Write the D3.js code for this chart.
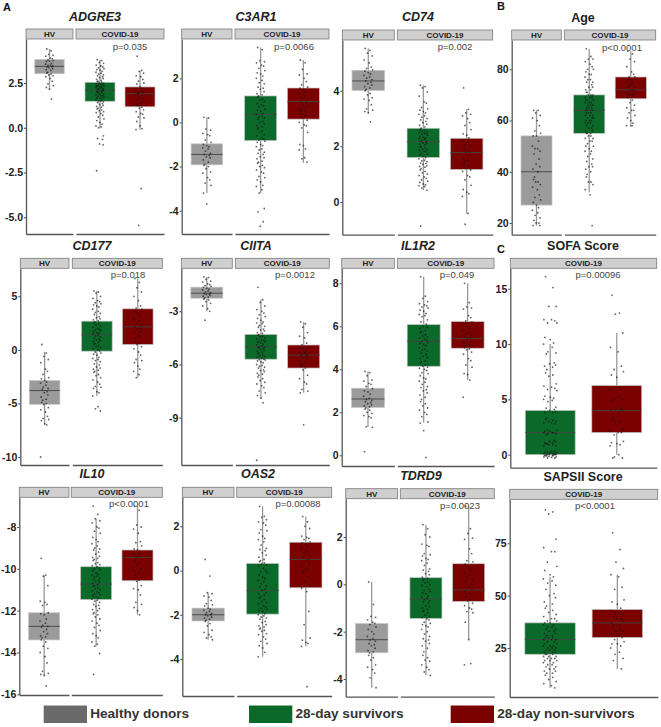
<!DOCTYPE html>
<html>
<head>
<meta charset="utf-8">
<script src="https://cdnjs.cloudflare.com/ajax/libs/d3/7.8.5/d3.min.js"></script>
<style>
  body { margin: 0; background: #fff; }
  text { font-family: "Liberation Sans", Arial, sans-serif; }
</style>
</head>
<body>
<div id="chart"></div>
<script>
// groups and legend
var groupNames = ["Healthy donors", "28-day survivors", "28-day non-survivors"];
var groupColors = ["#9b9b9b", "#0b6a2a", "#7b0000"];
var legendColors = ["#6a6a6a", "#0b6a2a", "#7b0000"];

// sideways spread of the dots, as a share of one category step
var jitter = [-.07, .04, -.02, .09, -.095, .02, .07, -.04, .1, -.08, 0, .05, -.1, .03, -.035, .085, -.06, .06, -.01, .08, -.085, .035, -.05];

// ADGRE3
var adgre3Stats = [[2.15, 3.02, 3.43, 3.81, 4.4], [0, 1.48, 2.09, 2.54, 3.8], [-.1, 1.17, 1.9, 2.28, 3.17]];
var adgre3Hv = [4.4, 4.3, 4.1, 4.05, 4, 3.9, 3.85, 3.8, 3.75, 3.7, 3.72, 3.6, 3.55, 3.5, 3.48, 3.45, 3.4, 3.42, 3.35, 3.3, 3.25, 3.2, 3.1, 3.05, 3, 2.95, 2.9, 2.85, 2.75, 2.6, 2.45, 2.35, 2.25, 2.15, 1.6];
var adgre3Surv = [3.8, 3.75, 3.65, 3.6, 3.5, 3.45, 3.4, 3.35, 3.3, 3.25, 3.22, 3.15, 3.1, 3.05, 3, 2.95, 2.9, 2.85, 2.8, 2.75, 2.7, 2.65, 2.6, 2.58, 2.55, 2.5, 2.48, 2.45, 2.42, 2.4, 2.38, 2.35, 2.32, 2.3, 2.28, 2.25, 2.22, 2.2, 2.18, 2.15, 2.12, 2.1, 2.08, 2.05, 2.02, 2, 1.98, 1.95, 1.9, 1.88, 1.85, 1.8, 1.78, 1.75, 1.7, 1.68, 1.65, 1.6, 1.55, 1.5, 1.48, 1.45, 1.4, 1.35, 1.3, 1.25, 1.2, 1.15, 1.1, 1.05, 1, .95, .9, .85, .8, .7, .6, .5, .4, .3, .2, .1, .05, 0, -.45, -.6, -.65, -.9, -.95, -2.4];
var adgre3Non = [4, 3.2, 3.15, 3.05, 2.9, 2.85, 2.7, 2.6, 2.5, 2.45, 2.3, 2.2, 2.1, 2, 1.95, 1.97, 1.9, 1.8, 1.7, 1.6, 1.55, 1.4, 1.3, 1.25, 1.15, 1.1, 1, .9, .8, .75, .6, .55, .35, .1, -.05, -.1, -3.4, -5.45];

// C3AR1
var c3ar1Stats = [[-3.2, -1.92, -1.45, -.97, .23], [-3.2, -.82, .36, 1.2, 3.4], [-1.83, .15, .94, 1.56, 2.83]];
var c3ar1Hv = [.23, .2, -.3, -.35, -.5, -.55, -.6, -.8, -.9, -1, -1.05, -1.1, -1.15, -1.2, -1.3, -1.4, -1.45, -1.5, -1.55, -1.6, -1.7, -1.8, -1.9, -1.95, -2, -2.1, -2.25, -2.3, -2.5, -2.6, -2.75, -2.85, -3.2, -3.7];
var c3ar1Surv = [3.4, 3.3, 2.8, 2.75, 2.7, 2.6, 2.55, 2.45, 2.35, 2.25, 2.2, 2.1, 2, 1.9, 1.8, 1.75, 1.6, 1.55, 1.5, 1.4, 1.3, 1.25, 1.2, 1.15, 1.05, 1, .95, .85, .8, .75, .7, .6, .55, .5, .4, .35, .3, .25, .2, .15, .05, 0, -.05, -.15, -.2, -.25, -.3, -.4, -.45, -.55, -.6, -.7, -.75, -.8, -.85, -.9, -1, -1.05, -1.1, -1.2, -1.25, -1.35, -1.4, -1.45, -1.55, -1.6, -1.65, -1.75, -1.8, -1.85, -1.95, -2, -2.05, -2.15, -2.25, -2.3, -2.45, -2.5, -2.6, -2.7, -2.85, -2.9, -3.05, -3.2, -3.9, -4.05, -4.5, -4.7];
var c3ar1Non = [2.83, 2.7, 2.4, 2.2, 2.15, 2, 1.85, 1.7, 1.6, 1.55, 1.5, 1.4, 1.3, 1.2, 1.1, 1, .95, .9, .8, .7, .6, .55, .5, .4, .3, .2, .1, 0, -.1, -.15, -.25, -.45, -1, -1.05, -1.2, -1.25, -1.6, -1.65, -1.8];

// CD74
var cd74Stats = [[3.2, 4.01, 4.35, 4.73, 5.52], [.43, 1.6, 2.17, 2.65, 4.2], [-.41, 1.17, 1.78, 2.29, 3.33]];
var cd74Hv = [5.52, 5.45, 5.35, 5.25, 5.1, 5, 4.85, 4.8, 4.75, 4.7, 4.65, 4.6, 4.55, 4.5, 4.45, 4.4, 4.35, 4.3, 4.25, 4.2, 4.15, 4.1, 4.05, 4, 3.9, 3.85, 3.75, 3.7, 3.65, 3.5, 3.35, 3.3, 3.25, 3.2, 2.88];
var cd74Surv = [4.2, 4.15, 4.1, 3.95, 3.8, 3.6, 3.55, 3.4, 3.35, 3.3, 3.25, 3.2, 3.15, 3.1, 3.05, 3, 2.95, 2.9, 2.85, 2.8, 2.75, 2.7, 2.65, 2.6, 2.58, 2.55, 2.52, 2.5, 2.48, 2.45, 2.42, 2.4, 2.35, 2.32, 2.3, 2.28, 2.25, 2.22, 2.2, 2.18, 2.15, 2.12, 2.1, 2.08, 2.05, 2, 1.98, 1.95, 1.9, 1.88, 1.85, 1.82, 1.8, 1.75, 1.72, 1.7, 1.65, 1.6, 1.55, 1.5, 1.48, 1.45, 1.4, 1.38, 1.35, 1.3, 1.28, 1.25, 1.2, 1.15, 1.1, 1.05, 1, .95, .9, .85, .8, .75, .7, .65, .62, .58, .55, .5, .43, -.87];
var cd74Non = [4.1, 3.33, 3.2, 3.15, 3.1, 3, 2.85, 2.75, 2.6, 2.45, 2.4, 2.3, 2.2, 2.15, 2.05, 2, 1.9, 1.8, 1.78, 1.7, 1.6, 1.5, 1.45, 1.35, 1.3, 1.2, 1.15, 1.1, .95, .9, .8, .6, .45, .35, .3, .2, -.41, -.8];

// Age
var ageStats = [[19, 27, 40, 54, 64], [32, 55, 64, 70, 88], [57.5, 68.5, 72, 77, 87]];
var ageHv = [64, 64, 63, 62, 61, 60, 58, 56, 55, 54, 54, 52, 50, 49, 49, 48, 47, 45, 43, 42, 41, 40, 38, 37, 36, 36, 35, 34, 33, 31, 30, 29, 28, 27, 26, 25, 24, 23, 22, 21, 20, 20, 19, 19];
var ageSurv = [88, 85, 84, 84, 83, 82, 81, 80, 80, 79, 78, 78, 77, 76, 76, 75, 75, 74, 73, 73, 72, 72, 71, 71, 70, 70, 70, 69, 69, 69, 68, 68, 68, 67, 67, 67, 66, 66, 66, 65, 65, 65, 64, 64, 64, 64, 63, 63, 63, 62, 62, 62, 61, 61, 61, 60, 60, 60, 59, 59, 59, 58, 58, 57, 57, 56, 56, 55, 55, 55, 54, 54, 53, 53, 52, 52, 51, 50, 50, 49, 48, 48, 47, 46, 45, 44, 43, 42, 42, 41, 40, 39, 38, 36, 36, 35, 33, 31, 19];
var ageNon = [87, 86, 84, 83, 81, 79, 78, 77, 77, 76, 76, 75, 75, 74, 74, 73, 73, 72, 72, 71, 71, 70, 70, 69, 68, 67, 66, 65, 64, 64, 63, 62, 61, 60, 59, 58, 58];

// CD177
var cd177Stats = [[-7, -5.08, -3.8, -2.87, -.2], [-4.3, -.12, 1.4, 2.68, 5.5], [-2.6, .5, 2.15, 3.83, 6.67]];
var cd177Hv = [.5, -.3, -.6, -.9, -1.2, -1.8, -2, -2.3, -2.6, -2.7, -2.85, -3, -3.1, -3.3, -3.5, -3.6, -3.7, -3.9, -4, -4.2, -4.4, -4.6, -4.7, -4.9, -5, -5.1, -5.4, -5.6, -5.8, -6.2, -6.4, -6.5, -6.6, -6.9, -7, -10];
var cd177Surv = [5.5, 5.4, 5.3, 5, 4.8, 4.6, 4.5, 4.4, 4.3, 4.2, 4.1, 4, 3.8, 3.6, 3.5, 3.4, 3.3, 3.1, 3, 2.9, 2.8, 2.7, 2.6, 2.5, 2.4, 2.3, 2.2, 2.1, 2, 1.9, 1.85, 1.8, 1.7, 1.6, 1.55, 1.5, 1.4, 1.3, 1.2, 1.1, 1, .9, .85, .8, .7, .6, .5, .4, .3, .2, .1, 0, -.1, -.2, -.3, -.4, -.5, -.7, -.8, -.9, -1, -1.1, -1.3, -1.4, -1.6, -1.7, -1.8, -1.9, -2, -2.1, -2.3, -2.4, -2.6, -2.8, -3, -3.2, -3.4, -3.5, -3.6, -3.9, -4, -4.3, -5.3, -5.5, -5.7];
var cd177Non = [6.67, 6.3, 5.8, 5.4, 5, 4.6, 4.1, 3.9, 3.8, 3.6, 3.4, 3.2, 2.9, 2.7, 2.5, 2.3, 2.1, 2, 1.9, 1.7, 1.6, 1.3, 1.1, .8, .6, .5, .3, .1, -.2, -.5, -.9, -1, -1.2, -1.5, -1.8, -2, -2.3, -2.6];

// CIITA
var ciitaStats = [[-3, -2.26, -1.98, -1.64, -1.06], [-7.9, -5.7, -5, -4.3, -2.35], [-7.6, -6.2, -5.47, -4.9, -3.6]];
var ciitaHv = [-1.06, -1.1, -1.2, -1.3, -1.35, -1.45, -1.5, -1.55, -1.6, -1.65, -1.7, -1.75, -1.8, -1.85, -1.9, -1.95, -2, -2.02, -2.05, -2.1, -2.15, -2.2, -2.25, -2.3, -2.35, -2.45, -2.55, -2.7, -2.85, -3, -3.5];
var ciitaSurv = [-1.65, -2.35, -2.5, -2.7, -2.9, -3, -3.1, -3.2, -3.3, -3.4, -3.5, -3.6, -3.65, -3.7, -3.8, -3.85, -3.9, -4, -4.05, -4.1, -4.2, -4.25, -4.3, -4.35, -4.4, -4.45, -4.5, -4.55, -4.6, -4.65, -4.7, -4.72, -4.75, -4.8, -4.85, -4.9, -4.95, -5, -5.02, -5.05, -5.1, -5.15, -5.2, -5.25, -5.3, -5.35, -5.4, -5.45, -5.5, -5.55, -5.6, -5.65, -5.7, -5.72, -5.75, -5.8, -5.85, -5.9, -6, -6.05, -6.1, -6.15, -6.2, -6.3, -6.35, -6.4, -6.5, -6.55, -6.6, -6.7, -6.8, -6.9, -7, -7.1, -7.2, -7.3, -7.5, -7.6, -7.75, -7.9, -8.15, -11.4];
var ciitaNon = [-3.6, -3.7, -3.9, -4.2, -4.4, -4.5, -4.8, -4.9, -5, -5.05, -5.1, -5.2, -5.3, -5.35, -5.4, -5.45, -5.5, -5.55, -5.6, -5.7, -5.8, -5.9, -6, -6.1, -6.2, -6.3, -6.6, -6.8, -7, -7.1, -7.4, -7.5, -7.6, -9.4];

// IL1R2
var il1r2Stats = [[1.33, 2.23, 2.62, 3.12, 3.9], [1.52, 4.14, 5.3, 6.08, 8.3], [3.5, 4.98, 5.44, 6.22, 8]];
var il1r2Hv = [3.9, 3.85, 3.7, 3.5, 3.45, 3.35, 3.3, 3.2, 3.1, 3, 2.95, 2.85, 2.75, 2.65, 2.6, 2.55, 2.5, 2.45, 2.4, 2.35, 2.3, 2.25, 2.2, 2.15, 2.1, 2, 1.95, 1.85, 1.8, 1.75, 1.33, 1.3, .17];
var il1r2Surv = [8.3, 7.4, 7.3, 7.15, 7.05, 7, 6.95, 6.9, 6.85, 6.75, 6.7, 6.6, 6.55, 6.5, 6.45, 6.3, 6.2, 6.1, 6, 5.95, 5.9, 5.8, 5.75, 5.7, 5.6, 5.55, 5.5, 5.45, 5.4, 5.35, 5.3, 5.25, 5.2, 5.15, 5.1, 5, 4.95, 4.9, 4.85, 4.75, 4.7, 4.6, 4.55, 4.5, 4.4, 4.35, 4.3, 4.2, 4.15, 4.1, 4.05, 4, 3.95, 3.85, 3.8, 3.7, 3.6, 3.55, 3.45, 3.4, 3.3, 3.2, 3.15, 3.05, 3, 2.9, 2.8, 2.7, 2.6, 2.5, 2.4, 2.3, 2.2, 2.1, 2, 1.9, 1.8, 1.55, 1.5, 1.15, -.1];
var il1r2Non = [8, 7.1, 6.9, 6.85, 6.8, 6.5, 6.4, 6.25, 6.2, 6.1, 6, 5.9, 5.8, 5.7, 5.65, 5.6, 5.5, 5.45, 5.4, 5.3, 5.25, 5.15, 5.1, 5, 4.95, 4.9, 4.8, 4.7, 4.5, 4.4, 4.2, 4.1, 3.8, 3.75, 3.5, 2.7];

// SOFA Score (the counts are nudged up and down a little in the picture)
var sofaStats = [null, [0, 0, 2, 4, 10], [0, 2, 4, 6.25, 11]];
var sofaSurv = [16.1, 15.1, 13.4, 13.4, 12.2, 12.2, 12.1, 11.9, 11.9, 10.6, 10.4, 10.1, 10, 9.7, 9.3, 9.2, 9.1, 8.3, 8.2, 8.1, 8, 7.9, 7.7, 7.4, 7.2, 7.1, 6.4, 6.2, 6.1, 6, 5.9, 5.8, 5.3, 5.2, 5.1, 5, 4.9, 4.8, 4.3, 4.2, 4.1, 4, 3.9, 3.8, 3.8, 3.3, 3.2, 3.1, 3, 3, 2.9, 2.9, 2.8, 2.2, 2.2, 2.1, 2.1, 2, 2, 2, 1.9, 1.9, 1.8, 1.3, 1.2, 1.2, 1.1, 1.1, 1, 1, .9, .9, .8, .8, .3, .3, .25, .2, .2, .15, .1, .1, .1, .05, .05, 0, 0, 0, 0, -.05, -.05, -.1, -.1, -.1, -.15, -.2, -.2, -.25, -.3, -.3];
var sofaNon = [14.4, 12.8, 12.7, 11, 9.7, 9.3, 8, 7.7, 7.5, 7.2, 7, 6.1, 5.9, 5.2, 5, 5, 4.9, 4.2, 4.1, 4, 4, 3.9, 3.3, 3.1, 3, 2.9, 2.3, 2.1, 2, 2, 1.8, 1.2, 1.1, 1, .9, .8, 0, -.2, -.3, -.3];

// IL10
var il10Stats = [[-15.1, -13.4, -12.75, -12.1, -10.3], [-13.7, -11.47, -10.73, -9.9, -7.6], [-12.2, -10.57, -9.45, -9.1, -7]];
var il10Hv = [-9.5, -10.3, -10.35, -10.8, -11.55, -11.6, -11.7, -11.75, -12.1, -12.15, -12.2, -12.4, -12.5, -12.6, -12.7, -12.75, -12.8, -12.9, -13, -13.1, -13.2, -13.25, -13.3, -13.4, -13.5, -13.7, -13.8, -14, -14.2, -14.5, -14.9, -15, -15.05, -15.1, -15.6];
var il10Surv = [-7, -7.4, -7.6, -7.7, -7.8, -8, -8.05, -8.2, -8.3, -8.5, -8.6, -8.7, -8.8, -8.9, -9, -9.05, -9.1, -9.2, -9.3, -9.4, -9.45, -9.5, -9.55, -9.6, -9.7, -9.75, -9.8, -9.85, -9.9, -9.95, -10, -10.05, -10.1, -10.2, -10.25, -10.3, -10.35, -10.4, -10.45, -10.5, -10.55, -10.6, -10.65, -10.7, -10.75, -10.8, -10.85, -10.9, -10.95, -11, -11.05, -11.1, -11.15, -11.2, -11.25, -11.3, -11.35, -11.4, -11.45, -11.5, -11.55, -11.6, -11.7, -11.75, -11.8, -11.9, -11.95, -12, -12.1, -12.15, -12.2, -12.3, -12.4, -12.5, -12.6, -12.7, -12.8, -12.95, -13.1, -13.2, -13.3, -13.5, -13.6, -13.7, -14.05, -15.05];
var il10Non = [-7, -7.2, -7.9, -8, -8.1, -8.3, -8.7, -8.75, -8.9, -9.05, -9.1, -9.25, -9.3, -9.4, -9.45, -9.5, -9.6, -9.7, -9.8, -10, -10.1, -10.2, -10.3, -10.45, -10.55, -10.6, -10.8, -10.95, -11, -11.25, -11.6, -11.7, -11.85, -12, -12.2];

// OAS2
var oas2Stats = [[-3.13, -2.28, -2, -1.7, -1], [-3.9, -1.97, -.9, .32, 2.9], [-3.43, -.78, .5, 1.28, 2.44]];
var oas2Hv = [.5, -.25, -1, -1.05, -1.15, -1.2, -1.35, -1.5, -1.55, -1.6, -1.7, -1.75, -1.8, -1.85, -1.9, -1.95, -2, -2, -2.05, -2.1, -2.15, -2.2, -2.25, -2.3, -2.4, -2.5, -2.7, -2.8, -2.9, -3, -3.05, -3.13];
var oas2Surv = [2.9, 2.45, 2.4, 2.3, 2.2, 2.15, 2.05, 1.85, 1.8, 1.7, 1.55, 1.45, 1.4, 1.3, 1.15, 1, .95, .9, .8, .7, .6, .5, .45, .4, .35, .3, .25, .2, .1, 0, -.05, -.1, -.2, -.3, -.35, -.45, -.5, -.6, -.7, -.75, -.85, -.9, -1, -1.05, -1.1, -1.2, -1.25, -1.3, -1.4, -1.45, -1.5, -1.6, -1.65, -1.7, -1.75, -1.8, -1.85, -1.95, -2, -2.05, -2.1, -2.15, -2.2, -2.3, -2.35, -2.45, -2.5, -2.55, -2.6, -2.65, -2.7, -2.75, -2.85, -2.9, -3, -3.1, -3.2, -3.3, -3.4, -3.5, -3.7, -3.9];
var oas2Non = [2.44, 2.2, 2, 1.9, 1.55, 1.5, 1.45, 1.4, 1.3, 1.25, 1.2, 1.1, 1, .9, .8, .7, .6, .5, .45, .3, .2, .1, 0, -.1, -.3, -.5, -.7, -.8, -.95, -1.85, -2.45, -3.05, -3.15, -3.25, -3.3, -3.43, -5.25];

// TDRD9
var tdrd9Stats = [[-4.37, -2.89, -2.34, -1.66, .1], [-3.85, -1.44, -.62, .28, 2.52], [-2.34, -.72, -.24, .87, 3.3]];
var tdrd9Hv = [.1, -.85, -1.35, -1.4, -1.5, -1.6, -1.65, -1.7, -1.8, -1.9, -2, -2.1, -2.2, -2.3, -2.35, -2.4, -2.5, -2.55, -2.6, -2.7, -2.8, -2.85, -2.9, -3, -3.1, -3.2, -3.4, -3.5, -3.6, -3.75, -3.95, -4.37];
var tdrd9Surv = [2.52, 2.35, 2.1, 2, 1.7, 1.65, 1.6, 1.3, 1.25, 1.2, 1.1, 1.05, 1, .9, .8, .65, .6, .55, .45, .4, .3, .25, .2, .15, .1, .05, 0, -.05, -.1, -.2, -.25, -.3, -.35, -.4, -.5, -.55, -.6, -.65, -.7, -.75, -.8, -.9, -.95, -1, -1.05, -1.1, -1.15, -1.2, -1.3, -1.35, -1.4, -1.45, -1.5, -1.6, -1.65, -1.7, -1.75, -1.8, -1.9, -2, -2.1, -2.2, -2.3, -2.35, -2.4, -2.5, -2.6, -2.7, -2.85, -3, -3.1, -3.2, -3.25, -3.4, -3.5, -3.6, -3.7, -3.85];
var tdrd9Non = [3.3, 2.35, 2.15, 1.95, 1.9, 1.5, 1.3, 1, .95, .85, .7, .6, .5, .4, .3, .2, .1, 0, -.1, -.2, -.3, -.4, -.5, -.55, -.65, -.7, -.8, -.9, -1, -1.05, -1.15, -1.2, -1.6, -2.34, -3.35, -3.4];

// SAPSII Score
var sapsStats = [null, [6, 22, 29, 37, 59], [15, 30, 37, 43.4, 60]];
var sapsSurv = [91, 90, 89, 77, 73, 71, 71, 66, 64, 62, 60, 59, 58, 57, 56, 55, 53, 51, 50, 49, 47, 46, 45, 44, 43, 42, 41, 40, 39, 39, 38, 38, 37, 37, 36, 36, 35, 35, 34, 34, 33, 33, 32, 32, 31, 31, 30, 30, 30, 29, 29, 29, 28, 28, 27, 27, 26, 26, 26, 25, 25, 25, 24, 24, 24, 23, 23, 23, 22, 22, 22, 21, 21, 21, 20, 20, 20, 19, 19, 19, 18, 18, 17, 17, 16, 16, 15, 15, 14, 14, 13, 13, 12, 11, 10, 9, 8, 7, 6];
var sapsNon = [80, 72, 66, 63, 60, 59, 54, 53, 48, 47, 46, 44, 43, 42, 42, 41, 40, 39, 39, 38, 37, 36, 36, 35, 34, 33, 33, 32, 31, 30, 29, 28, 27, 27, 26, 25, 23, 22, 20, 19, 15];

var panelTitles = ["ADGRE3", "C3AR1", "CD74", "Age", "CD177", "CIITA", "IL1R2", "SOFA Score", "IL10", "OAS2", "TDRD9", "SAPSII Score"];
var panelP = ["p=0.035", "p=0.0066", "p=0.002", "p<0.0001", "p=0.018", "p=0.0012", "p=0.049", "p=0.00096", "p<0.0001", "p=0.00088", "p=0.0023", "p<0.0001"];
var panelStats = [adgre3Stats, c3ar1Stats, cd74Stats, ageStats, cd177Stats, ciitaStats, il1r2Stats, sofaStats, il10Stats, oas2Stats, tdrd9Stats, sapsStats];
var panelPoints = [
  [adgre3Hv, adgre3Surv, adgre3Non], [c3ar1Hv, c3ar1Surv, c3ar1Non], [cd74Hv, cd74Surv, cd74Non], [ageHv, ageSurv, ageNon],
  [cd177Hv, cd177Surv, cd177Non], [ciitaHv, ciitaSurv, ciitaNon], [il1r2Hv, il1r2Surv, il1r2Non], [null, sofaSurv, sofaNon],
  [il10Hv, il10Surv, il10Non], [oas2Hv, oas2Surv, oas2Non], [tdrd9Hv, tdrd9Surv, tdrd9Non], [null, sapsSurv, sapsNon]
];
var panelTicks = [
  [2.5, 0, -2.5, -5], [2, 0, -2, -4], [4, 2, 0], [80, 60, 40, 20],
  [5, 0, -5, -10], [-3, -6, -9], [8, 6, 4, 2, 0], [15, 10, 5, 0],
  [-8, -10, -12, -14, -16], [2, 0, -2, -4], [2, 0, -2, -4], [75, 50, 25]
];
var tickFormats = [".1f", "d", "d", "d", "d", "d", "d", "d", "d", "d", "d", "d"];

// page layout: hv/covid are the two facets in px, strip top, plot bottom, then
// two tick values with their px rows to fix the y scale, title and p-value spots
var layout = [
  {hv: [26, 73], covid: [76, 164], strip: 29, bottom: 234, ref: [2.5, 83, -5, 217.3], title: [95, 16], p: [130, 46]},
  {hv: [181.7, 232], covid: [235, 329], strip: 29, bottom: 234, ref: [2, 78.3, -4, 210.7], title: [256, 16], p: [294, 46]},
  {hv: [342.3, 394.3], covid: [397.3, 492.7], strip: 30, bottom: 234.7, ref: [4, 90.7, 0, 202], title: [418, 16], p: [455, 46]},
  {hv: [511.7, 561.3], covid: [564.3, 655.7], strip: 30, bottom: 234.7, ref: [80, 69.3, 20, 223], title: [583, 17], p: [622, 47]},
  {hv: [20.3, 69], covid: [72.3, 162.3], strip: 258.3, bottom: 465, ref: [5, 296.3, -10, 457], title: [92, 245], p: [128, 274]},
  {hv: [181.3, 232.3], covid: [235.3, 329.3], strip: 258.3, bottom: 465, ref: [-3, 311.3, -9, 417.7], title: [256, 245], p: [295, 274]},
  {hv: [341.7, 394.3], covid: [397.3, 494], strip: 258.3, bottom: 466, ref: [8, 283.3, 0, 455.3], title: [418, 245], p: [457, 274]},
  {hv: null, covid: [510.3, 656.7], strip: 258.3, bottom: 467.7, ref: [15, 288.7, 0, 454.7], title: [583, 245], p: [598, 274]},
  {hv: [19.3, 69], covid: [71.3, 162.3], strip: 487.3, bottom: 695, ref: [-8, 527, -16, 694.3], title: [92, 473], p: [129, 503]},
  {hv: [182.3, 234], covid: [236.7, 331.7], strip: 487.3, bottom: 696, ref: [2, 526.3, -4, 659], title: [258, 473], p: [298, 503]},
  {hv: [345.7, 397.7], covid: [400.3, 494.3], strip: 488.7, bottom: 696.7, ref: [2, 537, -4, 679], title: [421, 475], p: [460, 505]},
  {hv: null, covid: [509.7, 657.7], strip: 489.3, bottom: 697, ref: [75, 543.3, 25, 648], title: [583, 476], p: [595, 505]}
];
var stripHeight = 10;

var svg = d3.select("#chart")
  .append("svg")
  .attr("width", 661)
  .attr("height", 727);

// one facet: strip on top, baseline below, and the boxes of the groups it holds
function drawFacet(panel, range, label, groups, y, i) {
  var x = d3.scalePoint().domain(groups).range(range).padding(0.6);
  var boxWidth = x.step() * 0.75;

  svg.append("rect")
    .attr("x", range[0]).attr("y", layout[i].strip)
    .attr("width", range[1] - range[0]).attr("height", stripHeight)
    .attr("fill", "#cfcfcf").attr("stroke", "#7a7a7a").attr("stroke-width", 0.8);
  svg.append("text")
    .attr("x", (range[0] + range[1]) / 2).attr("y", layout[i].strip + 8)
    .attr("text-anchor", "middle")
    .style("font-size", "8px").style("font-weight", "bold").style("fill", "#222")
    .text(label);

  // baseline, no ticks
  panel.append("g")
    .attr("transform", "translate(0," + y.range()[0] + ")")
    .call(d3.axisBottom(x).tickValues([]).tickSizeOuter(0))
    .select(".domain").attr("stroke", "#555").attr("stroke-width", 1.3);

  groups.forEach(function (g) {
    var s = panelStats[i][g];
    var cx = x(g);
    panel.append("line")
      .attr("x1", cx).attr("x2", cx)
      .attr("y1", y(s[0])).attr("y2", y(s[4]))
      .attr("stroke", "#999").attr("stroke-width", 1.3);
    panel.append("rect")
      .attr("x", cx - boxWidth / 2).attr("width", boxWidth)
      .attr("y", y(s[3])).attr("height", y(s[1]) - y(s[3]))
      .attr("fill", groupColors[g]).attr("stroke", "#c4c4c4").attr("stroke-width", 0.7);
    panel.append("line")
      .attr("x1", cx - boxWidth / 2).attr("x2", cx + boxWidth / 2)
      .attr("y1", y(s[2])).attr("y2", y(s[2]))
      .attr("stroke", "#444").attr("stroke-width", 0.9);
    panel.append("g").selectAll("circle")
      .data(panelPoints[i][g])
      .enter()
      .append("circle")
      .attr("cx", function (d, k) { return cx + jitter[k % jitter.length] * x.step(); })
      .attr("cy", function (d) { return y(d); })
      .attr("r", 0.9)
      .attr("fill", "#111")
      .attr("fill-opacity", 0.65);
  });
}

panelTitles.forEach(function (title, i) {
  var l = layout[i];
  var panel = svg.append("g");
  var first = l.hv ? l.hv[0] : l.covid[0];

  // y scale from the two reference ticks, stretched to the plot height
  var refScale = d3.scaleLinear().domain([l.ref[0], l.ref[2]]).range([l.ref[1], l.ref[3]]);
  var plotTop = l.strip + stripHeight;
  var y = d3.scaleLinear()
    .domain([refScale.invert(l.bottom), refScale.invert(plotTop)])
    .range([l.bottom, plotTop]);

  svg.append("text")
    .attr("x", l.title[0]).attr("y", l.title[1] + 4.5)
    .attr("text-anchor", "middle")
    .style("font-size", "12.5px").style("font-weight", "bold")
    .style("font-style", (title === "Age" || title.indexOf("Score") > 0) ? "normal" : "italic")
    .style("fill", "#222")
    .text(title);

  if (l.hv) drawFacet(panel, l.hv, "HV", [0], y, i);
  drawFacet(panel, l.covid, "COVID-19", [1, 2], y, i);

  // y axis, labels use a plain hyphen like the original
  var fmt = d3.format(tickFormats[i]);
  var yAxis = panel.append("g")
    .attr("transform", "translate(" + first + ",0)")
    .call(d3.axisLeft(y).tickValues(panelTicks[i])
      .tickFormat(function (d) { return fmt(d).replace("\u2212", "-"); })
      .tickSize(2).tickSizeOuter(0).tickPadding(1));
  yAxis.select(".domain").attr("stroke", "#555").attr("stroke-width", 1.3);
  yAxis.selectAll(".tick line").attr("stroke", "#444");
  yAxis.selectAll("text")
    .style("font-size", "10.5px").style("font-weight", "bold")
    .style("font-family", "'Liberation Sans', Arial, sans-serif")
    .attr("fill", "#222");

  svg.append("text")
    .attr("x", l.p[0]).attr("y", l.p[1] + 3.5)
    .attr("text-anchor", "middle")
    .style("font-size", "9.5px").style("fill", "#444")
    .text(panelP[i]);
});

// panel letters
svg.selectAll("text.letter")
  .data([["A", 3, 11], ["B", 497, 10], ["C", 497, 253]])
  .enter()
  .append("text")
  .attr("class", "letter")
  .attr("x", function (d) { return d[1]; })
  .attr("y", function (d) { return d[2]; })
  .style("font-size", "11px").style("font-weight", "bold").style("fill", "#111")
  .text(function (d) { return d[0]; });

// legend along the bottom
var legendX = [43.7, 249, 450.7];
groupNames.forEach(function (name, i) {
  svg.append("rect")
    .attr("x", legendX[i]).attr("y", 705.5)
    .attr("width", 43.3).attr("height", 17.5)
    .attr("fill", legendColors[i]);
  svg.append("text")
    .attr("x", legendX[i] + 46.5).attr("y", 717.5)
    .style("font-size", "13.6px").style("font-weight", "bold").style("fill", "#333")
    .text(name);
});
</script>
</body>
</html>
